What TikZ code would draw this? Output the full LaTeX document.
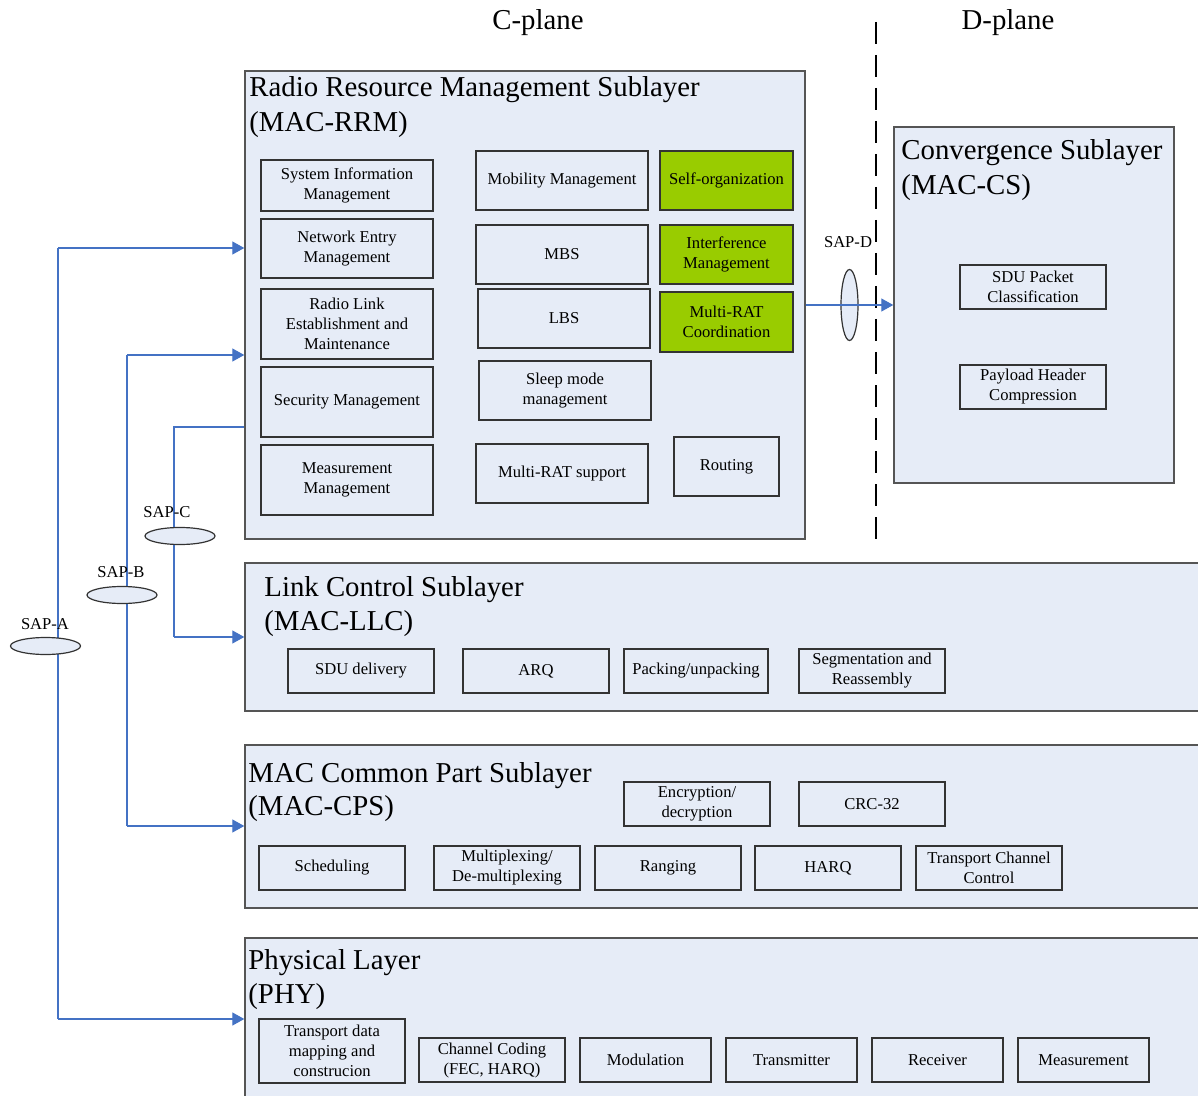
\documentclass[tikz,border=0pt]{standalone}
\usepackage{fontspec}
\setmainfont{Liberation Serif}
\usetikzlibrary{fit,shapes.geometric,arrows.meta}
\definecolor{paneblue}{HTML}{E6ECF7}
\definecolor{leafgreen}{HTML}{99CC00}
\definecolor{sapblue}{HTML}{4472C4}
\definecolor{edgegray}{HTML}{555555}

\begin{document}
\begin{tikzpicture}[x=0.5pt,y=-0.5pt,
  layer/.style={draw=edgegray, fill=paneblue, line width=0.7pt, inner sep=0pt},
  fn/.style={draw=black!80, fill=paneblue, line width=0.6pt, inner sep=0pt,
    align=center, font=\fontsize{8.3}{10}\selectfont},
  fngreen/.style={fn, fill=leafgreen},
  px/.style 2 args={minimum width=#1*0.5pt, minimum height=#2*0.5pt},
  title/.style={anchor=base west, inner sep=0pt, font=\fontsize{14.4}{16}\selectfont},
  plane/.style={anchor=base, inner sep=0pt, font=\fontsize{14.4}{16}\selectfont},
  saplabel/.style={inner sep=0pt, font=\fontsize{8.3}{10}\selectfont},
  sapring/.style={ellipse, draw=black!80, fill=paneblue, line width=0.6pt, inner sep=0pt},
  link/.style={draw=sapblue, line width=0.6pt},
  into/.style={link, -{Triangle[length=6pt,width=6.5pt]}},
  planesep/.style={draw=black, line width=1.3pt, dash pattern=on 11pt off 5.5pt},
]
\useasboundingbox (0,0) rectangle (1198,1096);
\clip (0,0) rectangle (1198,1096);

% ---------- plane headings and separator ----------
\node[plane] (cplane) at (538,30) {C-plane};
\node[plane] (dplane) at (1008,30) {D-plane};
\coordinate (septop) at (876,22);
\coordinate (sepbot) at (876,545);

% ---------- layer frames ----------
\node[layer, fit={(245,71) (805,539)}] (rrm) {};
\node[layer, fit={(894,127) (1174,483)}] (cs) {};
\node[layer, fit={(245,563) (1210,711)}] (llc) {};
\node[layer, fit={(245,745) (1210,908)}] (cps) {};
\node[layer, fit={(245,938) (1210,1110)}] (phy) {};

\draw[planesep] (septop) -- (sepbot);

% ---------- layer titles ----------
\node[title] (rrmt1) at (249,97) {Radio Resource Management Sublayer};
\node[title] (rrmt2) at (249,132) {(MAC-RRM)};
\node[title] (cst1) at (901,160) {Convergence Sublayer};
\node[title] (cst2) at (901,195) {(MAC-CS)};
\node[title] (llct1) at (264,596) {Link Control Sublayer};
\node[title] (llct2) at (264,630) {(MAC-LLC)};
\node[title] (cpst1) at (248,782) {MAC Common Part Sublayer};
\node[title] (cpst2) at (248,815) {(MAC-CPS)};
\node[title] (phyt1) at (248,969) {Physical Layer};
\node[title] (phyt2) at (248,1003) {(PHY)};

% ---------- MAC-RRM functions ----------
\node[fn, px={172}{51}] (sim) at (347,185.5) {System Information\\Management};
\node[fn, px={172}{59}] (nem) at (347,248.5) {Network Entry\\Management};
\node[fn, px={172}{70}] (rle) at (347,324) {Radio Link\\Establishment and\\Maintenance};
\node[fn, px={172}{70}] (sec) at (347,402) {Security Management};
\node[fn, px={172}{70}] (mea) at (347,480) {Measurement\\Management};

\node[fn, px={172}{59}] (mob) at (562,180.5) {Mobility Management};
\node[fn, px={172}{59}] (mbs) at (562,254.5) {MBS};
\node[fn, px={172}{59}] (lbs) at (564,318.5) {LBS};
\node[fn, px={172}{59}] (slp) at (565,390.5) {Sleep mode\\management};
\node[fn, px={172}{59}] (mrs) at (562,473.5) {Multi-RAT support};
\node[fn, px={105}{59}] (rout) at (726.5,466.5) {Routing};

\node[fngreen, px={133}{59}] (son) at (726.5,180.5) {Self-organization};
\node[fngreen, px={133}{59}] (itf) at (726.5,254.5) {Interference\\Management};
\node[fngreen, px={133}{60}] (mrc) at (726.5,322) {Multi-RAT\\Coordination};

% ---------- MAC-CS functions ----------
\node[fn, px={146}{44}] (spc) at (1033,287) {SDU Packet\\Classification};
\node[fn, px={146}{44}] (phc) at (1033,387) {Payload Header\\Compression};

% ---------- MAC-LLC functions ----------
\node[fn, px={146}{44}] (sdud) at (361,671) {SDU delivery};
\node[fn, px={146}{44}] (arq) at (536,671) {ARQ};
\node[fn, px={144}{44}] (pack) at (696,671) {Packing/unpacking};
\node[fn, px={146}{44}] (seg) at (872,671) {Segmentation and\\Reassembly};

% ---------- MAC-CPS functions ----------
\node[fn, px={146}{44}] (enc) at (697,804) {Encryption/\\decryption};
\node[fn, px={146}{44}] (crc) at (872,804) {CRC-32};
\node[fn, px={146}{44}] (sch) at (332,868) {Scheduling};
\node[fn, px={146}{44}] (mux) at (507,868) {Multiplexing/\\De-multiplexing};
\node[fn, px={146}{44}] (rng) at (668,868) {Ranging};
\node[fn, px={146}{44}] (harq) at (828,868) {HARQ};
\node[fn, px={146}{44}] (tcc) at (989,868) {Transport Channel\\Control};

% ---------- PHY functions ----------
\node[fn, px={146}{64}] (tdm) at (332,1051) {Transport data\\mapping and\\construcion};
\node[fn, px={146}{44}] (chc) at (492,1060) {Channel Coding\\(FEC, HARQ)};
\node[fn, px={131}{44}] (modu) at (645.5,1060) {Modulation};
\node[fn, px={131}{44}] (txm) at (791.5,1060) {Transmitter};
\node[fn, px={131}{44}] (rxm) at (937.5,1060) {Receiver};
\node[fn, px={131}{44}] (msr) at (1083.5,1060) {Measurement};

% ---------- service access points ----------
\coordinate (atop) at (58,248);
\coordinate (abot) at (58,1019);
\coordinate (btop) at (127,355);
\coordinate (bbot) at (127,826);
\coordinate (ctop) at (174,427);
\coordinate (cbot) at (174,637);

\draw[link] (atop) -- (abot);
\draw[into] (atop) -- (atop -| rrm.west);
\draw[into] (abot) -- (abot -| phy.west);

\draw[link] (btop) -- (bbot);
\draw[into] (btop) -- (btop -| rrm.west);
\draw[into] (bbot) -- (bbot -| cps.west);

\draw[link] (ctop -| rrm.west) -- (ctop) -- (cbot);
\draw[into] (cbot) -- (cbot -| llc.west);

\node[sapring, px={70}{17}] (sapa) at (45.5,646) {};
\node[sapring, px={70}{17}] (sapb) at (122,595) {};
\node[sapring, px={70}{17}] (sapc) at (180,536) {};
\node[saplabel] (sapal) at (45,624) {SAP-A};
\node[saplabel] (sapbl) at (121,572) {SAP-B};
\node[saplabel] (sapcl) at (167,512) {SAP-C};

\node[sapring, px={17}{71}] (sapd) at (849.5,305) {};
\node[saplabel] (sapdl) at (848,242) {SAP-D};
\draw[into] (rrm.east |- sapd) -- (cs.west |- sapd);
\end{tikzpicture}
\end{document}
